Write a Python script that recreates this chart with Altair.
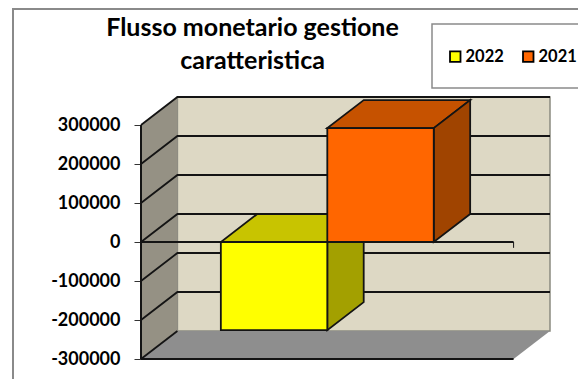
import altair as alt
import pandas as pd

YEARS = ["2022", "2021"]
VALUES = [-226000, 292000]
BAR_LEFT = [0.75, 1.75]
TICKS = [300000, 200000, 100000, 0, -100000, -200000, -300000]
FRONT_COLORS = ["#ffff00", "#ff6600"]
TOP_COLORS = ["#c8c400", "#c65200"]
SIDE_COLORS = ["#a3a000", "#a04400"]
TITLE_LINES = ["Flusso monetario gestione", "caratteristica"]

FONT = "Lato"
INK = "#141414"
X_SPAN, DEPTH_X = 3.5, 0.342
Y_MIN, Y_MAX, DEPTH_Y = -300000, 300000, 71800
BAR_W = 1.0

xs = alt.Scale(domain=[0, X_SPAN + DEPTH_X], nice=False, zero=False)
ys = alt.Scale(domain=[Y_MIN, Y_MAX + DEPTH_Y], nice=False, zero=False)
y_axis = alt.Axis(values=TICKS, title=None, grid=False, domain=False, tickSize=7, tickWidth=1,
                  tickColor="#333333", labelFont=FONT, labelFontWeight="bold", labelFontSize=18,
                  labelColor="black", labelPadding=14, labelExpr="'' + datum.value", labelOverlap=False)


def X(f="x"):
    return alt.X(f"{f}:Q", scale=xs, axis=None, title=None)


def Y(f="y"):
    return alt.Y(f"{f}:Q", scale=ys, axis=y_axis, title=None)


def side(x0, y_top, y_bottom, color, stroke=None, sw=1.8):
    df = pd.DataFrame({"x": [x0, x0 + DEPTH_X],
                       "y": [y_top, y_top + DEPTH_Y],
                       "y2": [y_bottom, y_bottom + DEPTH_Y]})
    kw = dict(stroke=stroke, strokeWidth=sw) if stroke else {}
    return alt.Chart(df).mark_area(color=color, opacity=1, **kw).encode(
        x=X(), y=Y(), y2=alt.Y2("y2:Q"))


def lid(x0, x1, y0, color, stroke=None, sw=1.8):
    df = pd.DataFrame({"y": [y0, y0 + DEPTH_Y],
                       "x": [x0, x0 + DEPTH_X],
                       "x2": [x1, x1 + DEPTH_X]})
    kw = dict(stroke=stroke, strokeWidth=sw) if stroke else {}
    return alt.Chart(df).mark_area(color=color, orient="horizontal", opacity=1, **kw).encode(
        y=Y(), x=X(), x2=alt.X2("x2:Q"))


# outer frame and legend box are page furniture, not data
frame = alt.Chart(pd.DataFrame({"a": [0]})).mark_rect(
    fillOpacity=0, stroke="#8a8a8a", strokeWidth=2).encode(
    x=alt.value(-128), x2=alt.value(600), y=alt.value(-88), y2=alt.value(400))
legend_box = alt.Chart(pd.DataFrame({"a": [0]})).mark_rect(
    fill="white", stroke="#8a8a8a", strokeWidth=1.5).encode(
    x=alt.value(291), x2=alt.value(600), y=alt.value(-73), y2=alt.value(-9))

back_wall = alt.Chart(pd.DataFrame({
    "x": [DEPTH_X], "x2": [X_SPAN + DEPTH_X], "y": [Y_MIN + DEPTH_Y], "y2": [Y_MAX + DEPTH_Y]
})).mark_rect(fill="#ddd8c4", stroke="#8a8a80", strokeWidth=1.5).encode(
    x=X(), x2="x2:Q", y=Y(), y2="y2:Q")
left_wall = side(0, Y_MAX, Y_MIN, "#959184")
floor = lid(0, X_SPAN, Y_MIN, "#8e8e8e")

grid_rows = []
for t in TICKS:
    if t == Y_MIN:
        grid_rows += [dict(t=t, x=0, y=t), dict(t=t, x=DEPTH_X, y=t + DEPTH_Y)]
    else:
        grid_rows += [dict(t=t, x=0, y=t), dict(t=t, x=DEPTH_X, y=t + DEPTH_Y),
                      dict(t=t, x=X_SPAN + DEPTH_X, y=t + DEPTH_Y)]
grid = alt.Chart(pd.DataFrame(grid_rows)).mark_line(color=INK, strokeWidth=1.8).encode(
    x=X(), y=Y(), detail="t:N")

edges = alt.Chart(pd.DataFrame({
    "x": [0, 0], "x2": [X_SPAN, X_SPAN], "y": [Y_MIN, 0]
})).mark_rule(color=INK, strokeWidth=1.8).encode(x=X(), x2="x2:Q", y=Y())
left_edge = alt.Chart(pd.DataFrame({"x": [0], "y": [Y_MIN], "y2": [Y_MAX]})).mark_rule(
    color=INK, strokeWidth=2).encode(x=X(), y=Y(), y2="y2:Q")
cat_ticks = alt.Chart(pd.DataFrame({"x": [0, X_SPAN], "y": [0, 0], "y2": [-15000, -15000]})).mark_rule(
    color=INK, strokeWidth=1).encode(x=X(), y=Y(), y2="y2:Q")

bars = []
for i, (yr, v, x0) in enumerate(zip(YEARS, VALUES, BAR_LEFT)):
    top = max(v, 0)
    bottom = min(v, 0)
    bars.append(lid(x0, x0 + BAR_W, top, TOP_COLORS[i], INK))
    bars.append(side(x0 + BAR_W, top, bottom, SIDE_COLORS[i], INK))

front_df = pd.DataFrame({
    "year": YEARS,
    "x": BAR_LEFT,
    "x2": [b + BAR_W for b in BAR_LEFT],
    "y": [max(v, 0) for v in VALUES],
    "y2": [min(v, 0) for v in VALUES],
})
legend = alt.Legend(orient="none", legendX=306, legendY=-49, direction="horizontal", title=None,
                    symbolType="square", symbolSize=110, symbolStrokeColor="black",
                    symbolStrokeWidth=1.8, symbolOpacity=1, labelFont=FONT, labelFontWeight="bold",
                    labelFontSize=16.5, labelColor="black", labelOffset=2, columnPadding=15,
                    padding=0, zindex=1)
front_color = alt.Color("year:N", scale=alt.Scale(domain=YEARS, range=FRONT_COLORS), legend=legend)
front_yellow = alt.Chart(front_df[front_df.year == YEARS[0]]).mark_rect(
    stroke=INK, strokeWidth=1.8, opacity=1).encode(
    x=X(), x2="x2:Q", y=Y(), y2="y2:Q", color=front_color)
front_orange = alt.Chart(front_df[front_df.year == YEARS[1]]).mark_rect(
    stroke=INK, strokeWidth=1.8, opacity=1).encode(
    x=X(), x2="x2:Q", y=Y(), y2="y2:Q", color=front_color)

chart = alt.layer(
    frame, back_wall, left_wall, floor, grid, edges, left_edge, cat_ticks,
    bars[0], bars[1], front_yellow, bars[2], bars[3], front_orange, legend_box,
).properties(
    width=409, height=262,
    padding={"left": 133, "top": 89, "right": 28, "bottom": 20},
    autosize=alt.AutoSizeParams(type="none"),
    background="white",
    title=alt.TitleParams(text=TITLE_LINES, font=FONT, fontSize=25, fontWeight="bold", color="black",
                          anchor="middle", dx=-93, dy=66, lineHeight=33, baseline="top", offset=0),
).configure_view(stroke=None)

chart.save("out.html", embed_options={"renderer": "svg", "actions": False})
